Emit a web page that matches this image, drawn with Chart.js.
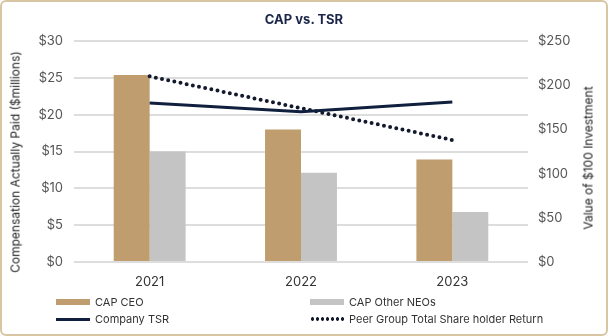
<!DOCTYPE html>
<html>
<head>
<meta charset="utf-8">
<script src="https://cdn.jsdelivr.net/npm/chart.js@4.4.1/dist/chart.umd.min.js"></script>
<style>
  body { margin: 0; background: #fff; font-family: Inter, "Liberation Sans", sans-serif; }
  #wrap { position: relative; width: 608px; height: 336px; overflow: hidden; }
  #frame { position: absolute; left: 0; top: 0; width: 608px; height: 336px; box-sizing: border-box;
           border: 2px solid #d8c6a3; border-radius: 6px; pointer-events: none; }
  #title { position: absolute; top: 11px; left: 0; width: 608px; text-align: center;
           font-weight: bold; font-size: 13px; color: #1b2548; }
  .ytitle { position: absolute; font-size: 12px; font-weight: normal; color: #222; white-space: nowrap;
            transform: translate(-50%, -50%) rotate(-90deg); }
  .leg { position: absolute; font-size: 11px; color: #333; display: flex; align-items: center; height: 16px; }
  .mark { width: 34px; margin-right: 5px; }
</style>
</head>
<body>
<div id="wrap">
  <canvas id="capChart" width="608" height="336"></canvas>
  <div id="title">CAP vs. TSR</div>
  <div class="ytitle" style="left:15px;top:162px">Compensation Actually Paid ($millions)</div>
  <div class="ytitle" style="left:588px;top:158px">Value of $100 Investment</div>
  <div id="legend"></div>
  <div id="frame"></div>
</div>
<script>
const years = ["2021", "2022", "2023"];
const capCeo = [25.4, 18.0, 13.9];
const capOtherNeos = [15.0, 12.1, 6.8];
const companyTsr = [180, 170, 181];
const peerTsr = [210, 174, 138];

const seriesNames = ["CAP CEO", "CAP Other NEOs", "Company TSR", "Peer Group Total Share holder Return"];

// fixed axis sizes so the plot area lands where the original does
function fixWidth(w) { return s => { s.width = w; }; }

const ctx = document.getElementById("capChart").getContext("2d");
const chart = new Chart(ctx, {
  type: "bar",
  data: {
    labels: years,
    datasets: [
      { type: "line", label: seriesNames[2], data: companyTsr, yAxisID: "y2",
        borderColor: "#0f1f3d", borderWidth: 3, pointRadius: 0, tension: 0, order: 0 },
      { type: "line", label: seriesNames[3], data: peerTsr, yAxisID: "y2",
        borderColor: "#141a2e", borderWidth: 4, borderDash: [0, 6.3], borderCapStyle: "round",
        pointRadius: 0, tension: 0, order: 0 },
      { label: seriesNames[0], data: capCeo, yAxisID: "y", backgroundColor: "#bf9d6e",
        categoryPercentage: 0.475, barPercentage: 1, order: 1 },
      { label: seriesNames[1], data: capOtherNeos, yAxisID: "y", backgroundColor: "#c4c4c4",
        categoryPercentage: 0.475, barPercentage: 1, order: 1 }
    ]
  },
  options: {
    responsive: false,
    animation: false,
    layout: { padding: { top: 41, left: 0, right: 0, bottom: 0 } },
    plugins: { legend: { display: false }, tooltip: { enabled: false } },
    scales: {
      x: {
        grid: { display: false },
        border: { display: false },
        ticks: { color: "#333", font: { family: "Inter", size: 13 }, padding: 4 },
        afterFit: s => { s.height = 74; }
      },
      y: {
        position: "left",
        min: 0, max: 30,
        ticks: { stepSize: 5, color: "#555", font: { family: "Inter", size: 13 }, padding: 11,
                 callback: v => "$" + v },
        grid: { color: "#dddddd", lineWidth: 2, drawTicks: false },
        border: { display: false },
        afterFit: fixWidth(74)
      },
      y2: {
        position: "right",
        min: 0, max: 250,
        ticks: { stepSize: 50, color: "#555", font: { family: "Inter", size: 13 }, padding: 10,
                 callback: v => "$" + v },
        grid: { display: false, drawTicks: false },
        border: { display: false },
        afterFit: fixWidth(80)
      }
    }
  }
});

// Legend, two columns like the original
const dots = "height:4px;background:radial-gradient(circle, #141a2e 1.5px, transparent 2px) 0 0/5px 4px repeat-x";
const legendItems = [
  { name: seriesNames[0], x: 56, y: 294, css: "height:6px;background:#bf9d6e" },
  { name: seriesNames[1], x: 310, y: 294, css: "height:6px;background:#c4c4c4" },
  { name: seriesNames[2], x: 56, y: 311, css: "height:0;border-top:3px solid #0f1f3d" },
  { name: seriesNames[3], x: 310, y: 311, css: dots }
];
const legend = document.getElementById("legend");
legendItems.forEach(it => {
  const d = document.createElement("div");
  d.className = "leg";
  d.style.left = it.x + "px";
  d.style.top = it.y + "px";
  d.innerHTML = '<span class="mark" style="' + it.css + '"></span><span>' + it.name + '</span>';
  legend.appendChild(d);
});
</script>
</body>
</html>
